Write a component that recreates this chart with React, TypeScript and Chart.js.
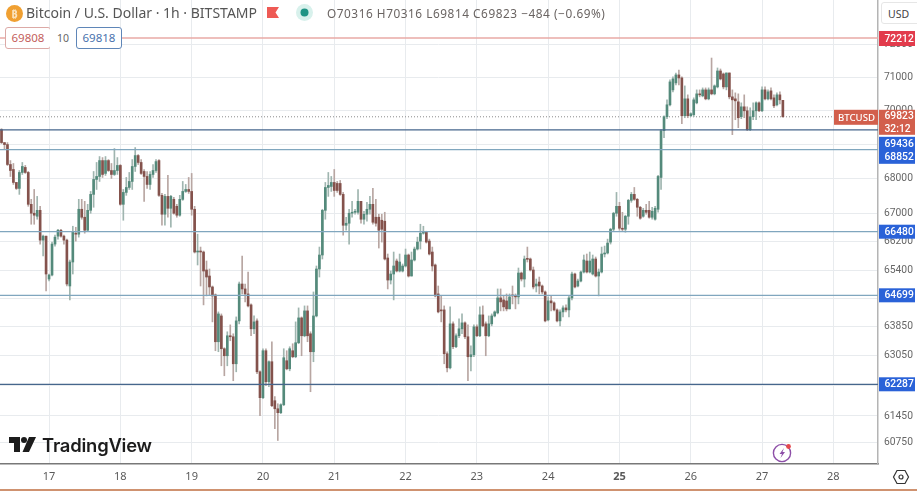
import React, { useEffect, useRef } from "react";
import { Chart, registerables } from "chart.js";

Chart.register(...registerables);

const dayTicks = [17, 18, 19, 20, 21, 22, 23, 24, 25, 26, 27, 28];
const priceTicks = [72000, 71000, 70000, 69000, 68000, 67000, 66200, 65400, 64600, 63850, 63050, 62250, 61450, 60750];
const hiddenPriceLabels = [69000, 64600, 62250];

const resistanceLevel = 72212;
const supportLevelsDark = [69436, 62287];
const supportLevelsLight = [68852, 66480, 64699];
const lastPrice = 69823;

const firstCandleDay = 16 + 8 / 24;

const opens = [
69440,69058,69000,68415,68270,67893,67720,68183,68330,68183,67262,67006,66920,67090,66242,66354,65150,65262,66130,66354,
66522,66354,66242,64957,65626,66438,66410,67120,66892,66522,67090,67548,67980,68067,68530,68155,68530,68240,68125,68240,
68388,67262,67605,67748,67922,68358,68677,68475,68212,68067,67835,68125,68240,68530,67520,66978,67490,67148,67405,67205,
66950,67405,67633,67690,67633,67120,65906,65934,65906,65402,65234,64930,64710,63429,64132,63240,63051,63591,63564,62835,
63996,65012,64875,64737,64435,63780,63996,62620,61932,63186,62355,62890,61852,61640,61536,61746,62917,62700,63186,63024,
63402,64078,63591,64270,63645,63159,64132,65430,65822,67090,67748,67777,67893,67864,67864,67548,66663,66721,67006,67034,
67034,67348,66835,66978,67120,67262,66892,66892,66806,66778,65738,65122,65290,65654,65374,65374,65514,65822,65234,65682,
65990,66214,66438,66466,66214,65906,65542,64737,64297,64297,63105,62727,63915,63294,63591,63780,63942,63564,63024,63078,
63834,63591,64160,63915,63591,63915,64132,64215,64627,64572,64545,64325,64710,64682,64655,65318,65150,65710,65710,65402,
64957,65067,64957,64792,64023,64545,64490,64297,63996,64242,64352,64297,64627,65290,64957,65095,65346,65654,65346,65290,
65710,65234,65346,65850,65878,66186,66550,67006,67205,66578,66550,66920,67376,67548,67405,67177,66920,67090,67090,66892,
66835,67120,68038,69411,69825,70181,70630,70841,71082,70991,69854,70360,69854,69884,70240,70510,70450,70630,70360,70630,
70510,70720,71203,71112,70720,71142,70420,70360,70270,69825,70121,70002,69440,69825,70002,70240,70002,70630,70360,70600,
70390,70181,70480,70316,
];
const closes = [
69058,69000,68415,68240,67893,67720,68183,68358,68183,67262,67006,66950,67090,66242,66354,65290,65262,66130,66326,66522,
66354,66242,65012,65626,66466,66410,67120,66892,66522,67090,67548,67980,68067,68530,68125,68530,68240,68125,68240,68388,
67262,67605,67748,67922,68358,68677,68475,68155,68067,67835,68125,68240,68500,67520,66978,67490,67148,67490,67006,66950,
67405,67633,67690,67633,67120,65906,65934,65906,65374,65206,64930,64682,63429,64187,63240,63051,63591,63564,62835,63996,
65012,64875,64737,64407,63780,63969,62620,61932,63186,62355,62890,61720,61640,61536,61746,62997,62700,63240,63024,63402,
64078,63591,64270,63591,63159,64132,65430,65822,67090,67748,67806,67893,67661,67661,67548,66663,66721,67006,67034,67062,
67348,66835,66978,67120,67262,66749,66721,66522,66550,65710,65122,65290,65514,65374,65626,65514,65822,65234,65682,65990,
66186,66438,66466,66186,65850,65514,64682,64242,64270,63105,62727,63915,63294,63591,63780,63942,63564,63024,63078,63834,
63591,64160,63861,63591,63915,64132,64242,64627,64517,64380,64325,64655,64682,64655,65318,65150,65710,65700,65402,64930,
65012,64957,64792,63996,64545,64490,64297,63996,64242,64352,64297,64627,65290,64930,65095,65346,65682,65346,65654,65710,
65234,65346,65850,65878,66158,66550,67006,67205,66578,66550,66920,67376,67548,67405,67177,66864,67090,67034,66892,67062,
67148,68067,69411,69825,70181,70871,70961,71082,70991,69854,70360,69854,69914,70330,70510,70480,70630,70360,70630,70510,
70750,71203,70961,70720,71142,70420,70330,70300,69795,70121,70002,69440,69825,70002,70240,70002,70630,70360,70570,70360,
70151,70480,70330,69823,
];
const highs = [
69470,69058,69058,68530,68445,67893,68240,68475,68388,68212,67405,67690,67490,67205,66382,66354,65290,66186,66382,66550,
66550,66382,66270,65682,66635,66606,67405,67405,67348,67262,67633,68212,68475,68648,68618,68648,68560,68445,68883,68618,
68415,67690,68038,68183,68560,68912,68706,68560,68270,68212,68212,68415,68560,68560,67576,67548,68096,67520,67462,67262,
67520,67922,67835,68038,68155,67205,66410,66046,65934,65654,65430,64957,64737,64242,64187,63267,63699,63888,63645,64105,
65067,65794,65012,65346,64462,64132,64050,62647,63240,63240,62917,63429,61958,61772,61772,63240,63186,63294,63375,63969,
64352,64105,64407,64407,63699,64792,65514,66046,67120,67893,68183,68067,68270,67922,67951,67605,66892,67120,67348,67120,
67690,67348,67062,67320,67490,67720,67405,66978,66978,67034,65850,65374,65906,65710,65850,65570,65990,65850,65906,66046,
66326,66692,66635,66494,66270,66046,65570,64957,64682,64407,63159,64380,63969,63645,64050,64187,63969,63888,63321,63888,
63888,64380,64407,63969,64132,64187,64270,64875,64875,64682,64737,64737,64957,64737,65458,65346,65794,66046,65738,65486,
65150,65206,64985,64820,64655,64682,64517,64325,64297,64407,64435,64682,65346,65318,65150,65374,65822,65850,65906,65822,
65766,65430,66046,66074,66270,66578,67034,67605,67320,67034,66950,67405,67605,67748,67433,67205,67148,67262,67348,67177,
67205,68096,69440,69854,70330,70931,71022,71142,71233,71022,70750,70480,69943,70390,70630,70630,70690,70690,70690,71597,
70780,71294,71263,71142,71142,71142,70630,70540,70510,70240,70480,70121,70092,70240,70270,70270,70720,70720,70630,70690,
70480,70540,70570,70316,
];
const lows = [
69030,68854,68385,68065,67835,67690,67548,68125,68155,67205,66692,66692,66835,66130,65794,64820,65095,65234,66074,66270,
66326,66130,64957,64572,65290,66214,66326,66835,66438,66494,67006,67177,67690,67922,68038,68096,68212,68009,68096,68125,
67234,66806,67520,67690,67690,68212,68415,68125,67348,67720,67690,68038,68183,67490,66663,66663,66892,66606,66978,66892,
66920,67376,67605,67576,66950,65878,65542,64957,64435,64682,64710,63969,63186,63159,62781,62515,62781,63456,62382,62620,
63915,64737,64517,64380,63591,63645,62567,61458,61905,62249,62223,61693,61120,60810,61510,61720,62673,62647,62997,62997,
63375,63051,63564,63429,62090,62890,64105,65206,65710,66835,67490,67633,67490,67605,67520,66382,66522,66130,66892,66978,
66978,66721,66692,66778,66978,66692,66635,66018,66186,65682,64875,65012,64572,65346,65346,65346,65486,65206,65234,65654,
65962,65990,66410,66158,65822,65374,64655,64215,63969,62835,62620,62700,63240,63267,63537,63645,63510,62382,62647,63024,
63564,63564,63834,63051,63564,63861,64105,64187,64270,64270,64270,64325,64462,64325,64462,65095,64930,65626,65374,64875,
64792,64737,64737,63969,63996,64270,64270,63969,63861,64105,64242,64105,64572,64902,64930,65067,65318,65318,65318,65262,
65206,64682,65318,65766,65850,66130,66494,66920,66522,66494,66466,66692,67320,67376,66920,66835,66892,66978,66864,66835,
66806,67034,67690,69205,69766,70151,70570,70781,70781,69618,69795,69795,69825,69825,70210,70420,70420,70330,70330,70480,
70480,70690,70931,70660,70630,70360,69293,69736,69500,69766,69795,69411,69411,69736,69736,69973,69973,70330,70330,70330,
70092,70151,70210,69814,
];

const times = opens.map((_, i) => firstCandleDay + i / 24);

const xMin = 16.312;
const xMax = 28.626;
const yMin = 60203;
const yMax = 73393;

const FONT = '"Noto Sans", "Open Sans", sans-serif';
const AXIS_FONT = 'Roboto, "Noto Sans", sans-serif';

function tag(ctx: CanvasRenderingContext2D, x: number, y0: number, w: number, h: number, color: string, lines: string[]) {
  ctx.fillStyle = color;
  ctx.fillRect(x, y0, w, h);
  ctx.fillStyle = "#ffffff";
  ctx.textBaseline = "middle";
  ctx.textAlign = "left";
  ctx.font = `500 10.3px ${AXIS_FONT}`;
  const step = h / lines.length;
  lines.forEach((t, i) => ctx.fillText(t, x + 5.5, y0 + step * (i + 0.5) + 0.5));
}

const tagsPlugin = {
  id: "priceTags",
  afterDraw(chart: any) {
    const ctx = chart.ctx as CanvasRenderingContext2D;
    const y = chart.scales.y;
    const ax = chart.chartArea.right + 1;
    const w = 36;
    ctx.save();
    const red = "#e23b4c";
    const blue = "#2a62d8";
    const orange = "#d25f4c";
    tag(ctx, ax, y.getPixelForValue(resistanceLevel) - 7, w, 15, red, [String(resistanceLevel)]);
    const ly = y.getPixelForValue(lastPrice);
    tag(ctx, ax, ly - 7, w, 25, orange, [String(lastPrice), "32:12"]);
    ctx.fillStyle = orange;
    ctx.fillRect(ax - 45, ly - 7, 44, 15);
    ctx.fillStyle = "#fff";
    ctx.font = `500 9.6px ${FONT}`;
    ctx.textAlign = "left";
    ctx.textBaseline = "middle";
    ctx.fillText("BTCUSD", ax - 41, ly + 1);
    const y1 = y.getPixelForValue(supportLevelsDark[0]);
    tag(ctx, ax, y1 + 7, w, 27, blue, [String(supportLevelsDark[0]), String(supportLevelsLight[0])]);
    [supportLevelsLight[1], supportLevelsLight[2], supportLevelsDark[1]].forEach((v) => {
      tag(ctx, ax, y.getPixelForValue(v) - 7, w, 14, blue, [String(v)]);
    });
    ctx.restore();
  },
};

const absolute = (s: React.CSSProperties): React.CSSProperties => ({ position: "absolute", whiteSpace: "nowrap", ...s });

export default function App() {
  const ref = useRef<HTMLCanvasElement>(null);
  useEffect(() => {
    document.body.style.margin = "0";
    const line = (v: number, color: string, width: number, order = 0, dash: number[] = []) => ({
      type: "line" as const,
      data: [{ x: xMin, y: v }, { x: xMax, y: v }],
      borderColor: color,
      borderWidth: width,
      borderDash: dash,
      pointRadius: 0,
      order,
    });
    const up = closes.map((c, i) => c >= opens[i]);
    const noPad = (s: any) => {
      s.paddingTop = 0;
      s.paddingBottom = 0;
      s.paddingLeft = 0;
      s.paddingRight = 0;
    };
    const chart = new Chart(ref.current!, {
      type: "bar",
      plugins: [tagsPlugin],
      data: {
        datasets: [
          line(resistanceLevel, "#e9aaa6", 1.5),
          ...supportLevelsDark.map((v) => line(v, "#46668c", 1.2)),
          ...supportLevelsLight.map((v) => line(v, "#80a6be", 1.3)),
          line(lastPrice, "#8a8a8a", 1, 3, [1, 2]),
          {
            data: times.map((x, i) => ({ x, y: [opens[i], closes[i]] })),
            backgroundColor: up.map((u) => (u ? "#548a7b" : "#84524c")),
            barThickness: 2,
            minBarLength: 1,
            grouped: false,
            order: 1,
          },
          {
            data: times.map((x, i) => ({ x, y: [lows[i], highs[i]] })),
            backgroundColor: up.map((u) => (u ? "#9fb5af" : "#b8a6a2")),
            barThickness: 1,
            grouped: false,
            order: 2,
          },
        ] as any,
      },
      options: {
        animation: false,
        responsive: false,
        devicePixelRatio: 1,
        layout: { padding: 0 },
        plugins: { legend: { display: false }, tooltip: { enabled: false } },
        scales: {
          x: {
            type: "linear",
            offset: false,
            min: xMin,
            max: xMax,
            afterBuildTicks: (s: any) => {
              s.ticks = dayTicks.map((value) => ({ value }));
            },
            afterFit: (s: any) => {
              s.height = 27;
              noPad(s);
            },
            grid: { offset: false, color: "#e8ebee", drawTicks: false },
            border: { color: "#787878", width: 1.5 },
            ticks: {
              autoSkip: false,
              maxRotation: 0,
              padding: 6,
              color: "#5a5a5a",
              font: (c: any) => ({ family: FONT, size: 11, weight: c.tick && c.tick.value === 25 ? "bold" : "normal" }),
              callback: (v: any) => String(v),
            },
          },
          y: {
            type: "logarithmic",
            position: "right",
            beginAtZero: false,
            min: yMin,
            max: yMax,
            afterBuildTicks: (s: any) => {
              s.ticks = priceTicks.map((value) => ({ value }));
            },
            afterFit: (s: any) => {
              s.width = 39;
              noPad(s);
            },
            grid: { color: "#e8ebee", drawTicks: false },
            border: { color: "#b4b4b4", width: 1.5 },
            ticks: {
              autoSkip: false,
              padding: 6,
              color: "#666666",
              font: { family: AXIS_FONT, size: 10.3 },
              callback: (v: any) => (hiddenPriceLabels.includes(Number(v)) ? "" : String(v)),
            },
          },
        },
      } as any,
    });
    return () => chart.destroy();
  }, []);

  return (
    <div style={{ position: "fixed", left: 0, top: 0, width: 917, height: 491, background: "#fff", overflow: "hidden", fontFamily: FONT }}>
      <canvas ref={ref} width={917} height={491} style={{ display: "block" }} />

      <div style={absolute({ left: 6, top: 5, width: 17, height: 17, borderRadius: 9, background: "#f0a032", color: "#fbe3bd", fontSize: 11, fontWeight: 700, textAlign: "center", lineHeight: "17px" })}>₿</div>
      <div style={absolute({ left: 26, top: 3, fontSize: 14, color: "#555", lineHeight: "20px" })}>Bitcoin / U.S. Dollar · 1h · BITSTAMP</div>
      <svg style={absolute({ left: 266, top: 6 })} width="14" height="13"><path d="M1 1H13L9.5 6.5L13 12H1Z" fill="#ee5a55" /></svg>
      <svg style={absolute({ left: 295, top: 3 })} width="19" height="19"><circle cx="9.5" cy="9.5" r="8.5" fill="#d8f1ec" /><circle cx="9.5" cy="9.5" r="4" fill="#1e9484" /></svg>
      <div style={absolute({ left: 327, top: 4, fontSize: 11.8, color: "#6a6462", lineHeight: "18px", letterSpacing: 0.55 })}>O70316 H70316 L69814 C69823 −484 (−0.69%)</div>

      <div style={absolute({ left: 5, top: 27, width: 44, height: 20, lineHeight: "20px", textAlign: "center", background: "#fff", border: "1px solid #dca9a6", borderRadius: 3, color: "#c4605c", fontSize: 11.5 })}>69808</div>
      <div style={absolute({ left: 50, top: 27, width: 26, height: 22, lineHeight: "22px", textAlign: "center", background: "#fff", color: "#666", fontSize: 10.5 })}>10</div>
      <div style={absolute({ left: 76, top: 27, width: 44, height: 20, lineHeight: "20px", textAlign: "center", background: "#fff", border: "1px solid #5f86b8", borderRadius: 3, color: "#4a72ad", fontSize: 11.5 })}>69818</div>

      <div style={absolute({ left: 881, top: 2, width: 40, height: 22, lineHeight: "22px", paddingLeft: 6, boxSizing: "border-box", background: "#fff", border: "1px solid #e6e6e6", borderRadius: 3, color: "#444", fontSize: 10.5 })}>USD</div>

      <svg style={absolute({ left: 9, top: 437 })} width="28" height="15" viewBox="0 0 28 15">
        <path d="M0 0H11V15H5V6H0Z" fill="#1c1c1c" />
        <circle cx="15" cy="3" r="3" fill="#1c1c1c" />
        <path d="M20 0H27L20 15H13.5Z" fill="#1c1c1c" />
      </svg>
      <div style={absolute({ left: 42, top: 432, fontFamily: "Inter, sans-serif", fontWeight: 600, fontSize: 18.4, color: "#1c1c1c", lineHeight: "26px", letterSpacing: -0.2 })}>TradingView</div>

      <svg style={absolute({ left: 770, top: 440 })} width="26" height="26" viewBox="0 0 26 26">
        <circle cx="12" cy="13" r="8.6" fill="#fff" stroke="#8d4fa8" strokeWidth="1.4" />
        <path d="M14 8L9.5 14H12L10.5 18L15 12H12.5Z" fill="#8d4fa8" />
        <circle cx="18.5" cy="6.5" r="2.4" fill="#e5484d" />
      </svg>
      <svg style={absolute({ left: 892, top: 469 })} width="18" height="16" viewBox="0 0 18 16">
        <path d="M5 1.5H13L16.5 8L13 14.5H5L1.5 8Z" fill="none" stroke="#333" strokeWidth="1.2" />
        <circle cx="9" cy="8" r="2" fill="none" stroke="#333" strokeWidth="1.2" />
      </svg>
      <div style={absolute({ left: 0, top: 489, width: 917, height: 2, background: "#cf9270" })} />
    </div>
  );
}
